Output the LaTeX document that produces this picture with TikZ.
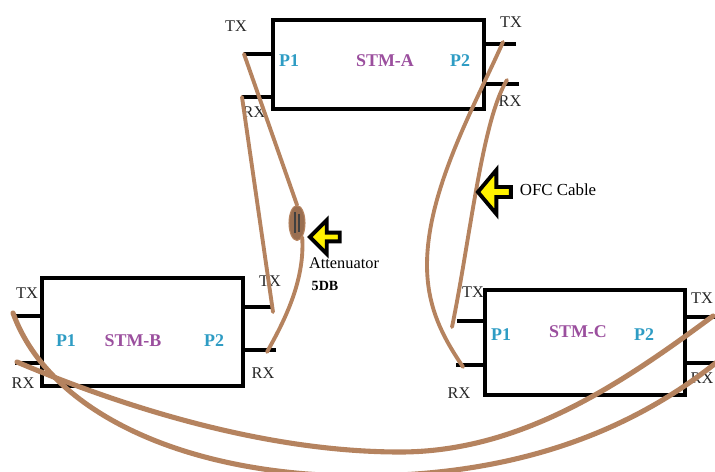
\documentclass[tikz,border=0pt]{standalone}
\usepackage{fontspec}
\setmainfont{Liberation Serif}
\usepackage{tikz}
\usetikzlibrary{shapes.geometric,shapes.arrows}
\definecolor{fibre}{HTML}{B5835F}
\definecolor{portcol}{HTML}{2E9CC4}
\definecolor{stmcol}{HTML}{9B4F9E}
\tikzset{
  stmbox/.style={draw=black,line width=2.8pt,fill=white,rectangle,outer sep=0pt,inner sep=0pt},
  stub/.style={line width=2.5pt,black},
  cable/.style={line width=2.2pt,fibre,line cap=round},
  longcable/.style={line width=2.9pt,fibre,line cap=round},
  pointer/.style={single arrow,draw=black,line width=2.2pt,fill=yellow,shape border rotate=180,
    inner sep=0pt,outer sep=0pt},
  txrx/.style={font=\fontsize{9.3}{10}\selectfont,text=black!85},
  port/.style={font=\fontsize{10.2}{11}\selectfont\bfseries,text=portcol},
  stmname/.style={font=\fontsize{10.2}{11}\selectfont\bfseries,text=stmcol}
}
\begin{document}
\begin{tikzpicture}[x=.02cm,y=-.02cm]
  \useasboundingbox (0,0) rectangle (715,472);
  \node (stma) at (378.5,64.5) [stmbox,minimum width=4.22cm,minimum height=1.78cm] {};
  \node (stmb) at (142.5,332) [stmbox,minimum width=4.02cm,minimum height=2.16cm] {};
  \node (stmc) at (585,342.5) [stmbox,minimum width=4cm,minimum height=2.1cm] {};
  \foreach \nm/\x/\y/\stm/\side in {atxl/244/54/stma/west, arxl/242/97/stma/west,
    atxr/516/44/stma/east, arxr/519/84/stma/east, btxl/15/316/stmb/west, brxl/15/363/stmb/west,
    btxr/272/307/stmb/east, brxr/276/350/stmb/east, ctxl/457/321/stmc/west, crxl/456/365/stmc/west,
    ctxr/715/317/stmc/east, crxr/715/363/stmc/east}
  {
    \coordinate (\nm) at (\x,\y);
    \draw[stub] (\nm) -- (\nm -| \stm.\side);
  }
  \node (lata) at (236,26) [txrx] {TX};
  \node (lara) at (254,112) [txrx] {RX};
  \node (latb) at (511,22) [txrx] {TX};
  \node (larb) at (510,101) [txrx] {RX};
  \node (lbta) at (27,293) [txrx] {TX};
  \node (lbra) at (23,383) [txrx] {RX};
  \node (lbtb) at (270,281) [txrx] {TX};
  \node (lbrb) at (263,373) [txrx] {RX};
  \node (lcta) at (473,292) [txrx] {TX};
  \node (lcra) at (459,393) [txrx] {RX};
  \node (lctb) at (702,298) [txrx] {TX};
  \node (lcrb) at (702,378) [txrx] {RX};
  \node (pa1) at (289,61) [port] {P1};
  \node (pa2) at (460,61) [port] {P2};
  \node (pb1) at (66,341) [port] {P1};
  \node (pb2) at (214,341) [port] {P2};
  \node (pc1) at (501,335) [port] {P1};
  \node (pc2) at (644,335) [port] {P2};
  \node (namea) at (385,61) [stmname] {STM-A};
  \node (nameb) at (133,341) [stmname] {STM-B};
  \node (namec) at (578,332) [stmname] {STM-C};
  \node (atten) at (297,223) [draw=fibre,fill=fibre!85!black,ellipse,line width=.6pt,
    minimum width=.32cm,minimum height=.7cm,inner sep=0pt] {};
  \draw[line width=1pt,black!75] (295,212) -- (295,233);
  \draw[line width=1pt,black!75] (299,214) -- (299,232);
  \coordinate (cta) at (503,42);
  \coordinate (cra) at (507,80);
  \coordinate (ctc) at (452,327);
  \coordinate (crc) at (463,367);
  \coordinate (bend) at (427,265);
  \coordinate (tbl) at (13,313);
  \coordinate (rbl) at (17,362);
  \coordinate (low) at (360,476);
  \coordinate (up) at (400,452);
  \coordinate (trc) at (713,316);
  \coordinate (rrc) at (717,362);
  \coordinate (btxe) at (273,312);
  \coordinate (brxe) at (267,352);
  \draw[cable] (atxl) -- (atten.north);
  \draw[cable] (arxl) -- (btxe);
  \draw[cable] (atten.-70) .. controls (305,280) and (285,320) .. (brxe);
  \draw[cable] (cta) .. controls (475,105) and (427,190) .. (bend)
    .. controls (427,310) and (445,340) .. (crc);
  \draw[cable] (cra) .. controls (482,120) and (470,240) .. (ctc);
  \draw[longcable] (tbl) .. controls (50,415) and (190,476) .. (low)
    .. controls (500,476) and (620,440) .. (rrc);
  \draw[longcable] (rbl) .. controls (130,410) and (270,452) .. (up)
    .. controls (520,452) and (620,385) .. (trc);
  \node (ofcarrow) at (496.5,192) [pointer,minimum height=.66cm,minimum width=.88cm,
    single arrow head extend=.13cm,single arrow tip angle=100] {};
  \node (attarrow) at (327,237) [pointer,minimum height=.6cm,minimum width=.68cm,
    single arrow head extend=.11cm] {};
  \node (ofclabel) at (558,190) [font=\fontsize{9.6}{11}\selectfont] {OFC Cable};
  \node (attlabel) at (344,263) [font=\fontsize{9.3}{10}\selectfont] {Attenuator};
  \node (dblabel) at (325,286) [font=\fontsize{8}{9}\selectfont\bfseries] {5DB};
\end{tikzpicture}
\end{document}
